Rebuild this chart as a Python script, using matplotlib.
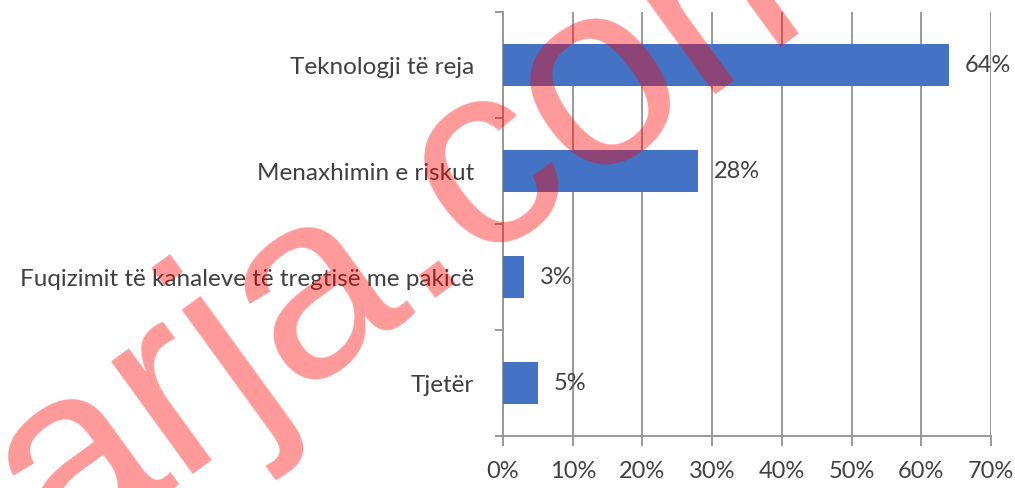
import matplotlib
matplotlib.use("Agg")
import matplotlib.pyplot as plt
from matplotlib.ticker import FixedLocator, PercentFormatter

# dati
categorie = ["Teknologji të reja", "Menaxhimin e riskut",
             "Fuqizimit të kanaleve të tregtisë me pakicë", "Tjetër"]
valori = [64, 28, 3, 5]
etichette = ["64%", "28%", "3%", "5%"]
x_ticks = [0, 10, 20, 30, 40, 50, 60, 70]

BLU = "#4472C4"
GRIGIO = "#999999"
TESTO = "#404040"

plt.rcParams["font.family"] = ["Lato", "DejaVu Sans"]

fig = plt.figure(figsize=(10.15, 4.88), dpi=100)
ax = fig.add_axes([503 / 1015, 1 - 436 / 488, 488 / 1015, 424 / 488])

y = list(range(len(categorie)))
ax.barh(y, valori, height=0.4, color=BLU, zorder=3)

for yi, v, lab in zip(y, valori, etichette):
    ax.annotate(lab, (v, yi), xytext=(11.5, 0), textcoords="offset points",
                ha="left", va="center", fontsize=17, color=TESTO, zorder=4)

ax.set_xlim(0, 70)
ax.set_ylim(len(categorie) - 0.5, -0.5)

ax.xaxis.set_major_locator(FixedLocator(x_ticks))
ax.xaxis.set_major_formatter(PercentFormatter(decimals=0))
ax.grid(axis="x", color=GRIGIO, lw=1.4, zorder=0)

ax.set_yticks(y)
ax.set_yticklabels(categorie)
ax.yaxis.set_minor_locator(FixedLocator([i - 0.5 for i in range(len(categorie) + 1)]))
ax.tick_params(axis="y", which="major", length=0, pad=21, labelsize=17.5, labelcolor=TESTO)
ax.tick_params(axis="y", which="minor", length=6, width=1.4, color=GRIGIO)
ax.tick_params(axis="x", length=7, width=1.4, color=GRIGIO, pad=11,
               labelsize=17, labelcolor=TESTO)

for s in ("top", "right"):
    ax.spines[s].set_visible(False)
for s in ("left", "bottom"):
    ax.spines[s].set_color(GRIGIO)
    ax.spines[s].set_linewidth(1.4)

# filigrana
fig.text(0.0577, -0.154, "arja.com", fontsize=190, family="Liberation Sans",
         color="red", alpha=0.4, rotation=36, rotation_mode="anchor",
         ha="left", va="baseline", zorder=10)

fig.savefig("out.png", dpi=100)
